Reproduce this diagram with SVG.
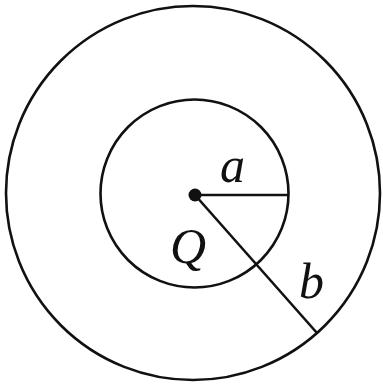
<svg xmlns="http://www.w3.org/2000/svg" width="383" height="385" viewBox="0 0 383 385">
<style>
.ln{fill:none;stroke:#111;stroke-width:2.6}
.lbl{font-family:"Liberation Serif","Times New Roman",serif;font-style:italic;font-size:50px;fill:#111}
</style>
<rect width="383" height="385" fill="#fff"/>
<g id="outer-circle"><circle class="ln" cx="193" cy="193" r="187"/></g>
<g id="inner-circle"><circle class="ln" cx="194.5" cy="193.5" r="94"/></g>
<g id="connectors">
<line class="ln" x1="195" y1="195" x2="289" y2="195"/>
<line class="ln" x1="195" y1="195" x2="317" y2="333"/>
</g>
<g id="charge-Q"><circle cx="195" cy="195" r="6.5" fill="#111"/><text class="lbl" x="170" y="263">Q</text></g>
<g id="label-a"><text class="lbl" x="220" y="182">a</text></g>
<g id="label-b"><text class="lbl" x="299" y="298">b</text></g>
</svg>
